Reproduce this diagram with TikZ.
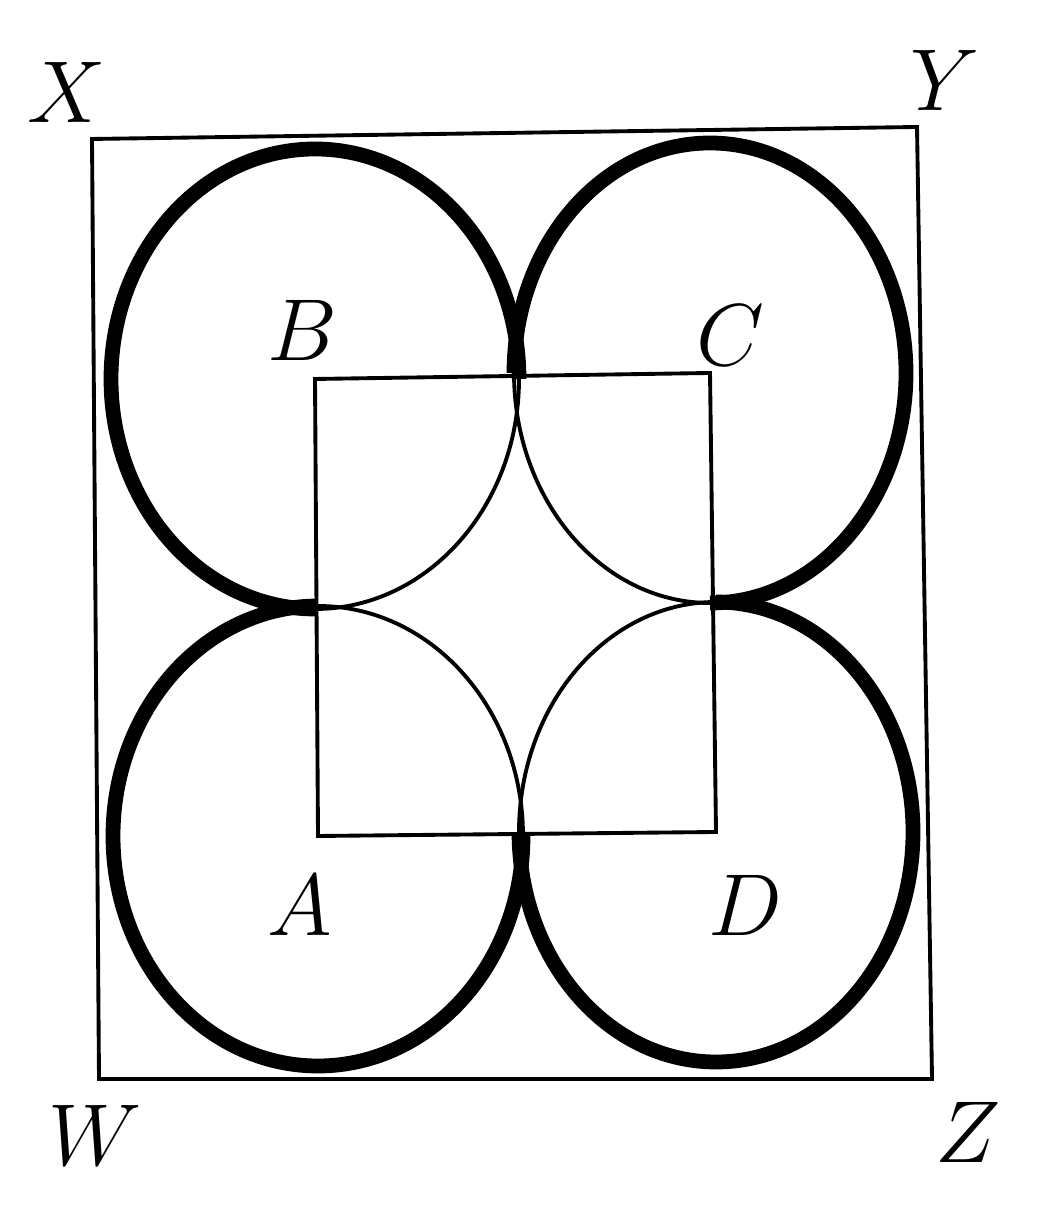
\RequirePackage{fix-cm}
\documentclass[tikz,border=0pt]{standalone}
\usepackage{amssymb}
\tikzset{
  thickarc/.style={black, line width=4.2pt},
  thinarc/.style={black, line width=1.1pt},
  frame/.style={black, line width=1.1pt, line join=miter},
  lbl/.style={font=\fontsize{25}{28}\selectfont, inner sep=0pt}
}

\begin{document}
\begin{tikzpicture}[x=0.01cm, y=0.01cm]
\useasboundingbox (0,0) rectangle (1054,1213);
% outer rectangle
\coordinate (X) at (92,1074);
\coordinate (Y) at (917,1086);
\coordinate (Z) at (932,134);
\coordinate (W) at (99,134);
% centres of the circles
\coordinate (A) at (318,377);
\coordinate (B) at (315,834);
\coordinate (C) at (710,840);
\coordinate (D) at (716,381);
\draw[frame] (X) -- (Y) -- (Z) -- (W) -- cycle;
\draw[frame] (A) -- (B) -- (C) -- (D) -- cycle;
% outer parts of the circles
\draw[thickarc] (B) ++(204,0) arc[start angle=0, end angle=270, x radius=204, y radius=230];
\draw[thickarc] (C) ++(0,-230) arc[start angle=-90, end angle=180, x radius=196, y radius=230];
\draw[thickarc] (A) ++(0,230) arc[start angle=90, end angle=360, x radius=205, y radius=230];
\draw[thickarc] (D) ++(-197,0) arc[start angle=180, end angle=450, x radius=197, y radius=230];
% inner parts
\draw[thinarc] (B) ++(0,-230) arc[start angle=-90, end angle=0, x radius=204, y radius=230];
\draw[thinarc] (C) ++(-196,0) arc[start angle=180, end angle=270, x radius=196, y radius=230];
\draw[thinarc] (A) ++(205,0) arc[start angle=0, end angle=90, x radius=205, y radius=230];
\draw[thinarc] (D) ++(0,230) arc[start angle=90, end angle=180, x radius=197, y radius=230];
% labels
\node[lbl] (lX) at (67,1121) {$X$};
\node[lbl] (lY) at (945,1133) {$Y$};
\node[lbl] (lZ) at (968,81) {$Z$};
\node[lbl] (lW) at (95,78) {$W$};
\node[lbl] (lA) at (300,308) {$A$};
\node[lbl] (lB) at (302,883) {$B$};
\node[lbl] (lC) at (730,878) {$C$};
\node[lbl] (lD) at (745,308) {$D$};
\end{tikzpicture}
\end{document}
